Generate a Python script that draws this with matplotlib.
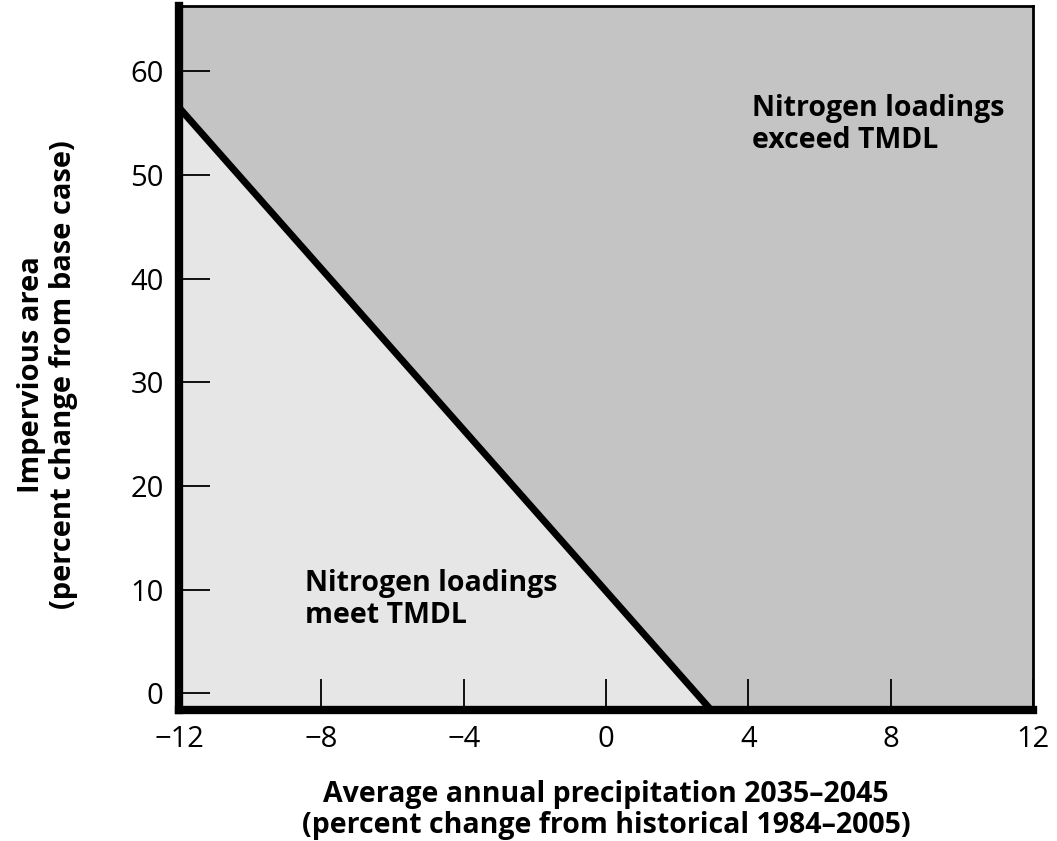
import numpy as np
import matplotlib.pyplot as plt

plt.rcParams['font.family'] = ['Open Sans', 'DejaVu Sans']

# boundary line (threshold where loadings meet TMDL)
line_x = [-12, 2.95]
line_y = [56.5, -1.6]

x_ticks = [-12, -8, -4, 0, 4, 8, 12]
x_labels = ['\u221212', '\u22128', '\u22124', '0', '4', '8', '12']
y_ticks = [0, 10, 20, 30, 40, 50, 60]

xmin, xmax = -12, 12
ymin, ymax = -1.6, 66.3

fig = plt.figure(figsize=(10.57, 8.41), dpi=100)
ax = fig.add_axes([0.1693, 0.1558, 0.808, 0.8372])

dark = '#c4c4c4'
light = '#e6e6e6'

ax.set_facecolor(dark)
ax.fill_between(line_x, [ymin, ymin], line_y, color=light, lw=0, zorder=1)
ax.plot(line_x, line_y, color='black', lw=5, solid_capstyle='butt', zorder=3)

ax.set_xlim(xmin, xmax)
ax.set_ylim(ymin, ymax)
ax.set_xticks(x_ticks)
ax.set_xticklabels(x_labels)
ax.set_yticks(y_ticks)
ax.tick_params(direction='in', length=22, width=1.3, labelsize=21, pad=11, color='black')

for s in ['left', 'bottom']:
    ax.spines[s].set_linewidth(6)
for s in ['top', 'right']:
    ax.spines[s].set_linewidth(2)

ax.text(4.1, 57.8, 'Nitrogen loadings\nexceed TMDL', fontsize=20.5, fontweight='bold',
        ha='left', va='top', linespacing=1.15, zorder=4)
ax.text(-8.45, 12.0, 'Nitrogen loadings\nmeet TMDL', fontsize=20.5, fontweight='bold',
        ha='left', va='top', linespacing=1.15, zorder=4)

ax.set_xlabel('Average annual precipitation 2035\u20132045\n(percent change from historical 1984\u20132005)',
              fontsize=20.5, fontweight='bold', linespacing=1.12)
ax.xaxis.set_label_coords(0.5, -0.099)
ax.set_ylabel('Impervious area\n(percent change from base case)',
              fontsize=21, fontweight='bold', linespacing=1.15)
ax.yaxis.set_label_coords(-0.118, 0.476)

fig.savefig('out.png', dpi=100)
